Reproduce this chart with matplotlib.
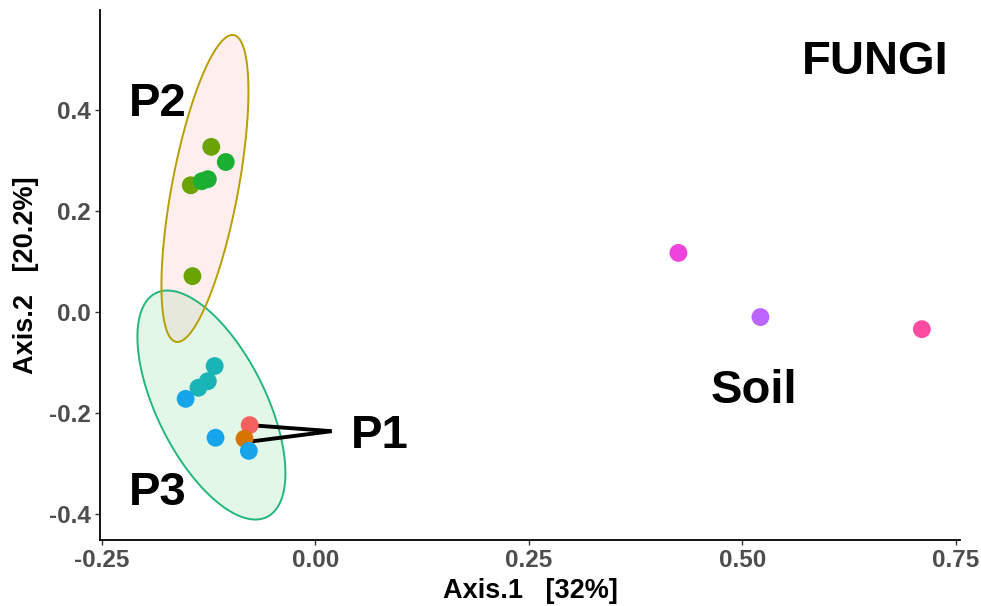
import numpy as np
import matplotlib
matplotlib.use("Agg")
import matplotlib.pyplot as plt
from matplotlib.patches import Polygon

plt.rcParams['font.family'] = ['Liberation Sans', 'DejaVu Sans']

# ---- data ----
groups = ["P1a", "P1b", "P2a", "P2b", "P3a", "P3b", "SoilA", "SoilB", "SoilC"]
colors = ["#F4605E", "#D57500", "#6BA204", "#1AAF33", "#18B4B6", "#16A5EA",
          "#EE44DD", "#BC64FF", "#FF4CA0"]
axis1 = [
    [-0.077],
    [-0.083],
    [-0.122, -0.146, -0.144],
    [-0.105, -0.133, -0.126],
    [-0.118, -0.126, -0.137],
    [-0.152, -0.117, -0.078],
    [0.425],
    [0.521],
    [0.710],
]
axis2 = [
    [-0.224],
    [-0.251],
    [0.327, 0.251, 0.071],
    [0.297, 0.259, 0.263],
    [-0.107, -0.137, -0.150],
    [-0.172, -0.249, -0.275],
    [0.117],
    [-0.010],
    [-0.034],
]

# confidence ellipses: centre and covariance-like matrix (data units)
ellipse_names = ["P3", "P2"]
ellipse_centers = [(-0.1218, -0.1842), (-0.1294, 0.2446)]
ellipse_mats = [
    [[0.007508, -0.011682], [-0.011682, 0.05141]],
    [[0.002594, 0.009788], [0.009788, 0.09239]],
]
ellipse_edge = ["#22B77B", "#B79F00"]
ellipse_fill = ["#00BA38", "#F8766D"]

# text labels
labels = ["FUNGI", "P2", "P3", "P1", "Soil"]
label_x = [0.570, -0.218, -0.218, 0.042, 0.463]
label_y = [0.471, 0.388, -0.382, -0.269, -0.180]

# P1 pointer lines
pointer_x = [[-0.077, 0.019], [-0.083, 0.019]]
pointer_y = [[-0.224, -0.236], [-0.258, -0.236]]

xticks = [-0.25, 0.00, 0.25, 0.50, 0.75]
xticklabels = ["-0.25", "0.00", "0.25", "0.50", "0.75"]
yticks = [-0.4, -0.2, 0.0, 0.2, 0.4]
yticklabels = ["-0.4", "-0.2", "0.0", "0.2", "0.4"]

# ---- figure ----
fig = plt.figure(figsize=(9.81, 6.06), dpi=100)
ax = fig.add_axes([0.1019, 0.1089, 0.8767, 0.8746])
ax.set_xlim(-0.2523, 0.7547)
ax.set_ylim(-0.4515, 0.598)

t = np.linspace(0, 2 * np.pi, 400, endpoint=False)
for c, m, ec, fc in zip(ellipse_centers, ellipse_mats, ellipse_edge, ellipse_fill):
    L = np.linalg.cholesky(np.array(m))
    pts = L @ np.vstack([np.cos(t), np.sin(t)])
    xy = np.column_stack([c[0] + pts[0], c[1] + pts[1]])
    ax.add_patch(Polygon(xy, closed=True, facecolor=fc, alpha=0.11,
                         edgecolor="none", zorder=1))
    ax.add_patch(Polygon(xy, closed=True, facecolor="none", edgecolor=ec,
                         lw=1.4, joinstyle="round", zorder=2))

for px, py in zip(pointer_x, pointer_y):
    ax.plot(px, py, color="black", lw=2.8, solid_capstyle="butt",
            solid_joinstyle="miter", zorder=3)

for xs, ys, col in zip(axis1, axis2, colors):
    ax.scatter(xs, ys, s=165, color=col, edgecolors="none", zorder=4)

for s, x, y in zip(labels, label_x, label_y):
    ax.text(x, y, s, fontsize=34, fontweight="bold", color="black",
            ha="left", va="baseline", zorder=5)

ax.set_xticks(xticks)
ax.set_xticklabels(xticklabels)
ax.set_yticks(yticks)
ax.set_yticklabels(yticklabels)

for side in ["top", "right"]:
    ax.spines[side].set_visible(False)
for side in ["left", "bottom"]:
    ax.spines[side].set_color("black")
    ax.spines[side].set_linewidth(1.3)

ax.tick_params(axis="both", direction="out", length=3.6, width=1.0,
               color="#333333", labelcolor="#4D4D4D", labelsize=17.5, pad=3)
for lab in ax.get_xticklabels() + ax.get_yticklabels():
    lab.set_fontweight("bold")

ax.set_xlabel("Axis.1   [32%]", fontsize=19.5, fontweight="bold", labelpad=4)
ax.set_ylabel("Axis.2   [20.2%]", fontsize=19.5, fontweight="bold", labelpad=7)

fig.savefig("out.png", dpi=100)
